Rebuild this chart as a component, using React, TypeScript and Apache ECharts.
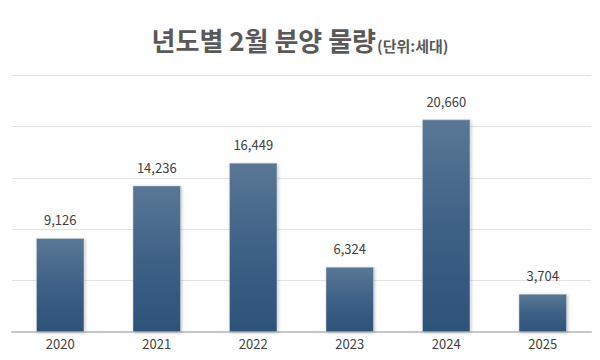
import React, { useEffect, useRef } from "react";
import * as echarts from "echarts";

const years = ["2020", "2021", "2022", "2023", "2024", "2025"];
const supply = [9126, 14236, 16449, 6324, 20660, 3704];
const titleMain = "년도별 2월 분양 물량";
const titleUnit = "(단위:세대)";

export default function App() {
  const ref = useRef<HTMLDivElement>(null);
  useEffect(() => {
    if (!ref.current) return;
    const chart = echarts.init(ref.current, undefined, { renderer: "svg" });
    const font = "'Noto Sans CJK KR', 'Noto Sans', sans-serif";
    chart.setOption({
      animation: false,
      backgroundColor: "#ffffff",
      title: {
        text: `{a|${titleMain}}{b|${titleUnit}}`,
        left: "center",
        top: 14,
        textStyle: {
          rich: {
            a: { fontSize: 26, fontWeight: "bold", color: "#595959", fontFamily: font, verticalAlign: "bottom", lineHeight: 34 },
            b: { fontSize: 15, fontWeight: "bold", color: "#595959", fontFamily: font, verticalAlign: "bottom", lineHeight: 34, padding: [0, 0, 0, 1] },
          },
        },
      },
      grid: { left: 12, right: 9, top: 75, bottom: 28, containLabel: false },
      xAxis: {
        type: "category",
        data: years,
        axisTick: { show: false },
        axisLine: { lineStyle: { color: "#c8c8c8", width: 2 } },
        axisLabel: { color: "#404040", fontSize: 13, fontFamily: font, margin: 5 },
      },
      yAxis: {
        type: "value",
        min: 0,
        max: 25000,
        interval: 5000,
        axisLabel: { show: false },
        axisLine: { show: false },
        axisTick: { show: false },
        splitLine: { lineStyle: { color: "#e2e2e2", width: 1 } },
      },
      series: [
        {
          type: "bar",
          data: supply,
          barWidth: 48,
          itemStyle: {
            color: new echarts.graphic.LinearGradient(0, 0, 0, 1, [
              { offset: 0, color: "#5a7795" },
              { offset: 0.5, color: "#3e6186" },
              { offset: 1, color: "#2e5279" },
            ]),
            borderColor: "#d0d6dd",
            borderWidth: 0.5,
            shadowColor: "rgba(0,0,0,0.25)",
            shadowBlur: 3,
            shadowOffsetX: 1,
            shadowOffsetY: 1,
          },
          label: {
            show: true,
            position: "top",
            distance: 12,
            color: "#404040",
            fontSize: 13,
            fontFamily: font,
            formatter: (p: any) => Number(p.value).toLocaleString("en-US"),
          },
        },
      ],
    });
    return () => chart.dispose();
  }, []);
  return <div ref={ref} style={{ width: 600, height: 360, position: "absolute", left: 0, top: 0 }} />;
}
